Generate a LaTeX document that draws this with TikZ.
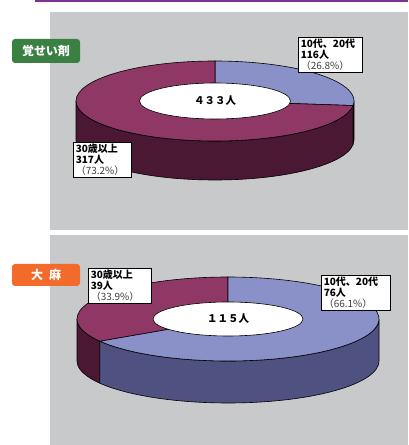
\documentclass[tikz,border=0pt]{standalone}
\usepackage{fontspec}
\usetikzlibrary{shapes.geometric}
\newfontfamily\jp{Noto Sans CJK JP}
\newfontfamily\jpheavy{Noto Sans CJK JP Black}
\definecolor{panelgray}{RGB}{200,201,203}
\definecolor{purpleline}{RGB}{124,52,144}
\definecolor{tabgreen}{RGB}{58,128,66}
\definecolor{taborange}{RGB}{242,107,43}
\definecolor{bluetop}{RGB}{138,144,200}
\definecolor{blueside}{RGB}{79,81,128}
\definecolor{magtop}{RGB}{143,56,102}
\definecolor{magside}{RGB}{74,24,50}
\begin{document}
\begin{tikzpicture}[x=1pt, y=1pt]
	\tikzset{
		rim/.style={draw=black, line width=0.6pt},
		hole/.style={ellipse, rim, fill=white, inner sep=0pt, font=\jpheavy\fontsize{10.5}{10.5}\selectfont},
		tab/.style={rounded corners=3pt, minimum width=68pt, inner sep=0pt, text=white, font=\jpheavy\fontsize{12}{12}\selectfont},
		lbl/.style={rim, fill=white, anchor=north west, inner xsep=2.5pt, inner ysep=1.5pt, align=left, font=\jpheavy\fontsize{10}{11.5}\selectfont}
	};
	\newcommand{\pctline}[1]{\\[-1pt]{\jp\color{black!75}#1}}

	\useasboundingbox (0,0) rectangle (408,445);
	\fill[purpleline] (35,443) rectangle (408,445);
	\fill[panelgray] (50,215) rectangle (408,433);
	\fill[panelgray] (50,0) rectangle (408,210);

	% stimulants
	\coordinate (c1) at (215,344);
	\filldraw[rim, fill=magside] (c1) ++(180:139 and 40) arc[start angle=180, end angle=353.5, x radius=139, y radius=40]
		-- ++(0,-39) arc[start angle=353.5, end angle=180, x radius=139, y radius=40] -- cycle;
	\filldraw[rim, fill=blueside] (c1) ++(353.5:139 and 40) arc[start angle=353.5, end angle=360, x radius=139, y radius=40]
		-- ++(0,-39) arc[start angle=360, end angle=353.5, x radius=139, y radius=40] -- cycle;
	\filldraw[rim, fill=bluetop] (c1) -- ++(-6.5:139 and 40) arc[start angle=-6.5, end angle=90, x radius=139, y radius=40] -- cycle;
	\filldraw[rim, fill=magtop] (c1) -- ++(90:139 and 40) arc[start angle=90, end angle=353.5, x radius=139, y radius=40] -- cycle;
	\node[hole, minimum width=151pt, minimum height=36pt] (tot1) at (c1) {４３３人};

	\node[tab, fill=tabgreen, minimum height=24pt] (kakusei) at (46,394) {覚せい剤};
	\node[lbl, text width=59pt] (young1) at (298,408) {10代、20代\\116人\pctline{（26.8\%）}};
	\node[lbl, text width=53pt] (old1) at (73,303) {30歳以上\\317人\pctline{（73.2\%）}};

	% cannabis
	\coordinate (c2) at (228,126);
	\filldraw[rim, fill=magside] (c2) ++(180:151 and 42) arc[start angle=180, end angle=212, x radius=151, y radius=42]
		-- ++(0,-42) arc[start angle=212, end angle=180, x radius=151, y radius=42] -- cycle;
	\filldraw[rim, fill=blueside] (c2) ++(212:151 and 42) arc[start angle=212, end angle=360, x radius=151, y radius=42]
		-- ++(0,-42) arc[start angle=360, end angle=212, x radius=151, y radius=42] -- cycle;
	\filldraw[rim, fill=magtop] (c2) -- ++(90:151 and 42) arc[start angle=90, end angle=212, x radius=151, y radius=42] -- cycle;
	\filldraw[rim, fill=bluetop] (c2) -- ++(212:151 and 42) arc[start angle=212, end angle=450, x radius=151, y radius=42] -- cycle;
	\node[hole, minimum width=150pt, minimum height=34pt] (tot2) at (c2) {１１５人};

	\node[tab, fill=taborange, minimum height=22pt] (taima) at (46,170) {大\hspace{0.5em}麻};
	\node[lbl, text width=58pt] (old2) at (88,177) {30歳以上\\39人\pctline{（33.9\%）}};
	\node[lbl, text width=64pt] (young2) at (321,170) {10代、20代\\76人\pctline{（66.1\%）}};
\end{tikzpicture}
\end{document}
